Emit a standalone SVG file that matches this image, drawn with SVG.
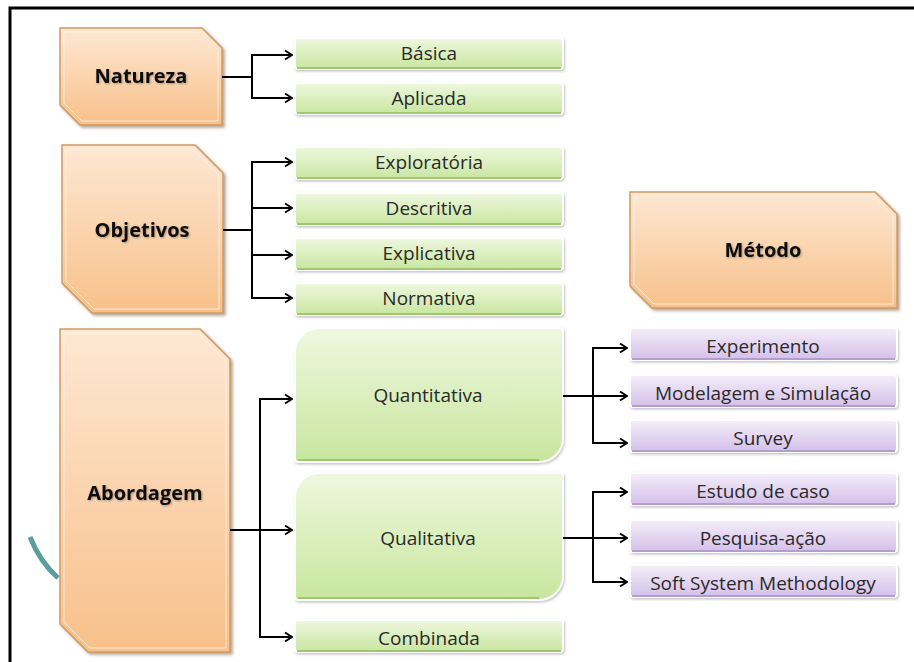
<svg xmlns="http://www.w3.org/2000/svg" width="914" height="662" viewBox="0 0 914 662">
<defs>
<linearGradient id="gOr" x1="0" y1="0" x2="0" y2="1"><stop offset="0" stop-color="#fde8d3"/><stop offset="1" stop-color="#f8c08a"/></linearGradient>
<linearGradient id="gGr" x1="0" y1="0" x2="0" y2="1"><stop offset="0" stop-color="#eef8df"/><stop offset="1" stop-color="#c8e69f"/></linearGradient>
<linearGradient id="gPu" x1="0" y1="0" x2="0" y2="1"><stop offset="0" stop-color="#f5eefb"/><stop offset="1" stop-color="#d3c0e8"/></linearGradient>
<filter id="sh" x="-10%" y="-10%" width="125%" height="125%"><feDropShadow dx="2" dy="2" stdDeviation="1.5" flood-color="#7a5a3a" flood-opacity="0.55"/></filter>
<filter id="sh2" x="-5%" y="-20%" width="110%" height="150%"><feDropShadow dx="1" dy="1.5" stdDeviation="1.2" flood-color="#888" flood-opacity="0.5"/></filter>
<filter id="tsh" x="-5%" y="-20%" width="115%" height="150%"><feDropShadow dx="1" dy="1" stdDeviation="0.8" flood-color="#000" flood-opacity="0.3"/></filter>
<marker id="arr" markerWidth="12" markerHeight="12" viewBox="0 0 12 12" refX="11" refY="6" orient="auto" markerUnits="userSpaceOnUse">
<path d="M4,1.5 L11,6 L4,10.5" fill="none" stroke="#000" stroke-width="2"/>
</marker>
<style>
.or{fill:url(#gOr);stroke:#cf9a66;stroke-width:1.5;filter:url(#sh)}
.orin{fill:none;stroke:#fff3e6;stroke-width:1;opacity:.8}
.gr{fill:url(#gGr);stroke:#ffffff;stroke-width:2;filter:url(#sh2)}
.grb{stroke:#9fc772;stroke-width:2}
.pu{fill:url(#gPu);stroke:#ffffff;stroke-width:2;filter:url(#sh2)}
.pub{stroke:#b49bd0;stroke-width:2}
.lb{font-family:"Open Sans","Liberation Sans",sans-serif;font-weight:bold;font-size:20px;fill:#111;text-anchor:middle;filter:url(#tsh)}
.tx{font-family:"Open Sans","Liberation Sans",sans-serif;font-size:19px;fill:#2a2a2a;text-anchor:middle}
.cn{fill:none;stroke:#000;stroke-width:2}
</style>
</defs>
<rect width="914" height="662" fill="#fff"/>
<path d="M10,662 V8 H914" fill="none" stroke="#000" stroke-width="3"/>
<path id="arc" d="M30,537 Q40,562 58,578" fill="none" stroke="#5a9e9c" stroke-width="5"/>

<g id="natureza">
<polygon class="or" points="60,28 202,28 222,48 222,125 80,125 60,105"/>
<polygon class="orin" points="64,32 200,32 218,50 218,121 82,121 64,103"/>
<text class="lb" x="141" y="83">Natureza</text>
</g>
<g id="objetivos">
<polygon class="or" points="62,145 195,145 223,173 223,313 92,313 62,283"/>
<polygon class="orin" points="66,149 193,149 219,175 219,309 94,309 66,281"/>
<text class="lb" x="142" y="237">Objetivos</text>
</g>
<g id="metodo">
<polygon class="or" points="630,192 875,192 897,214 897,308 652,308 630,286"/>
<polygon class="orin" points="634,196 873,196 893,216 893,304 654,304 634,284"/>
<text class="lb" x="763" y="257">Método</text>
</g>
<g id="abordagem">
<polygon class="or" points="60,329 200,329 230,359 230,652 88,652 60,624"/>
<polygon class="orin" points="64,333 198,333 226,361 226,648 90,648 64,622"/>
<text class="lb" x="145" y="500">Abordagem</text>
</g>

<g id="basica"><rect class="gr" x="295" y="38" width="268" height="31" rx="3"/><line class="grb" x1="297" y1="68" x2="561" y2="68"/><text class="tx" x="429" y="60">Básica</text></g>
<g id="aplicada"><rect class="gr" x="295" y="83" width="268" height="31" rx="3"/><line class="grb" x1="297" y1="113" x2="561" y2="113"/><text class="tx" x="429" y="105">Aplicada</text></g>
<g id="exploratoria"><rect class="gr" x="295" y="147" width="268" height="32" rx="3"/><line class="grb" x1="297" y1="178" x2="561" y2="178"/><text class="tx" x="429" y="169">Exploratória</text></g>
<g id="descritiva"><rect class="gr" x="295" y="193" width="268" height="32" rx="3"/><line class="grb" x1="297" y1="224" x2="561" y2="224"/><text class="tx" x="429" y="215">Descritiva</text></g>
<g id="explicativa"><rect class="gr" x="295" y="238" width="268" height="32" rx="3"/><line class="grb" x1="297" y1="269" x2="561" y2="269"/><text class="tx" x="429" y="260">Explicativa</text></g>
<g id="normativa"><rect class="gr" x="295" y="283" width="268" height="32" rx="3"/><line class="grb" x1="297" y1="314" x2="561" y2="314"/><text class="tx" x="429" y="305">Normativa</text></g>
<g id="quantitativa"><path class="gr" d="M319,328 H560 A3,3 0 0 1 563,331 V438 A24,24 0 0 1 539,462 H298 A3,3 0 0 1 295,459 V352 A24,24 0 0 1 319,328 Z"/><path class="grb" fill="none" d="M298,460 H539"/><text class="tx" x="428" y="402">Quantitativa</text></g>
<g id="qualitativa"><path class="gr" d="M319,473 H560 A3,3 0 0 1 563,476 V576 A24,24 0 0 1 539,600 H298 A3,3 0 0 1 295,597 V497 A24,24 0 0 1 319,473 Z"/><path class="grb" fill="none" d="M298,598 H539"/><text class="tx" x="428" y="545">Qualitativa</text></g>
<g id="combinada"><rect class="gr" x="295" y="620" width="268" height="32" rx="3"/><line class="grb" x1="297" y1="651" x2="561" y2="651"/><text class="tx" x="429" y="645">Combinada</text></g>

<g id="experimento"><rect class="pu" x="630" y="328" width="267" height="32" rx="3"/><line class="pub" x1="632" y1="359" x2="895" y2="359"/><text class="tx" x="763" y="353">Experimento</text></g>
<g id="modelagem"><rect class="pu" x="630" y="375" width="267" height="32" rx="3"/><line class="pub" x1="632" y1="406" x2="895" y2="406"/><text class="tx" x="763" y="400">Modelagem e Simulação</text></g>
<g id="survey"><rect class="pu" x="630" y="420" width="267" height="32" rx="3"/><line class="pub" x1="632" y1="451" x2="895" y2="451"/><text class="tx" x="763" y="445">Survey</text></g>
<g id="estudo"><rect class="pu" x="630" y="473" width="267" height="32" rx="3"/><line class="pub" x1="632" y1="504" x2="895" y2="504"/><text class="tx" x="763" y="498">Estudo de caso</text></g>
<g id="pesquisa"><rect class="pu" x="630" y="520" width="267" height="32" rx="3"/><line class="pub" x1="632" y1="551" x2="895" y2="551"/><text class="tx" x="763" y="545">Pesquisa-ação</text></g>
<g id="ssm"><rect class="pu" x="630" y="565" width="267" height="32" rx="3"/><line class="pub" x1="632" y1="596" x2="895" y2="596"/><text class="tx" x="763" y="590">Soft System Methodology</text></g>

<g id="connectors">
<path class="cn" d="M222,77 H252 V55 H292" marker-end="url(#arr)"/>
<path class="cn" d="M252,77 V98 H292" marker-end="url(#arr)"/>
<path class="cn" d="M223,230 H252 V162 H292" marker-end="url(#arr)"/>
<path class="cn" d="M252,162 V298 H292" marker-end="url(#arr)"/>
<path class="cn" d="M252,208 H292" marker-end="url(#arr)"/>
<path class="cn" d="M252,255 H292" marker-end="url(#arr)"/>
<path class="cn" d="M230,530 H292" marker-end="url(#arr)"/>
<path class="cn" d="M292,399 H260 V637 H292" marker-end="url(#arr)"/>
<path class="cn" d="M260,399 H292" marker-end="url(#arr)"/>
<path class="cn" d="M563,396 H593 V348 H627" marker-end="url(#arr)"/>
<path class="cn" d="M593,348 V443 H627" marker-end="url(#arr)"/>
<path class="cn" d="M593,396 H627" marker-end="url(#arr)"/>
<path class="cn" d="M563,538 H593 V492 H627" marker-end="url(#arr)"/>
<path class="cn" d="M593,492 V582 H627" marker-end="url(#arr)"/>
<path class="cn" d="M593,538 H627" marker-end="url(#arr)"/>
</g>
</svg>
